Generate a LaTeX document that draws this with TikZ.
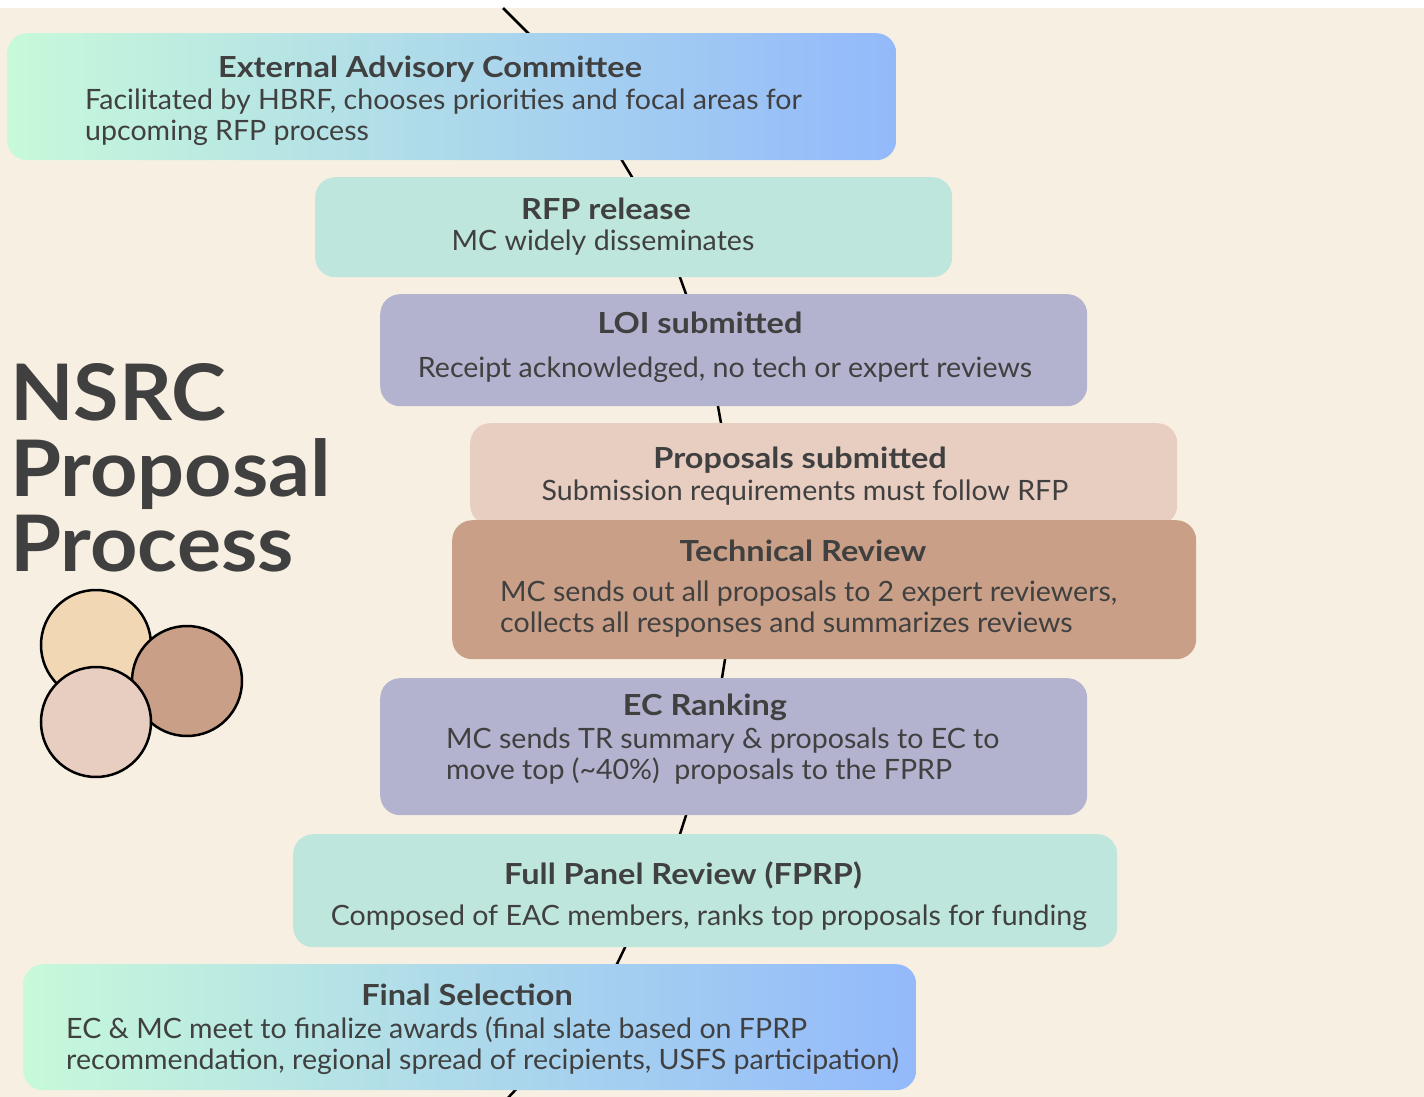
\documentclass[tikz,border=0pt]{standalone}
\usepackage{fontspec}
\setmainfont{Lato}
\newfontfamily\hfont[FakeStretch=1.12]{Lato Bold}
\newfontfamily\tfont[FakeStretch=1.06]{Lato Bold}
\newfontfamily\bfont[FakeStretch=1.02]{Lato}
\usetikzlibrary{calc}
\definecolor{bgcream}{HTML}{F7F0E2}
\definecolor{txt}{HTML}{404040}
\definecolor{mint}{HTML}{C7F9DA}
\definecolor{skyb}{HTML}{93B9FB}
\definecolor{aqua}{HTML}{BEE6DD}
\definecolor{lav}{HTML}{B3B2CF}
\definecolor{blush}{HTML}{E8CDC1}
\definecolor{clay}{HTML}{C9A087}
\definecolor{tan}{HTML}{F1D7B3}
\pgfdeclarelayer{bg}
\pgfdeclarelayer{lines}
\pgfsetlayers{bg,lines,main}
\tikzset{
  box/.style={rectangle, rounded corners=20pt, inner sep=0pt, anchor=north west, draw=none},
  gradbox/.style={box, left color=mint, right color=skyb},
  head/.style={inner sep=0pt, text=txt, font=\hfont\fontsize{29}{32}\selectfont, anchor=base},
  body/.style={inner sep=0pt, text=txt, font=\bfont\fontsize{28}{31}\selectfont, anchor=base},
  bodyl/.style={body, anchor=base west},
  conn/.style={line width=2.5pt, black},
  disc/.style={circle, draw=black, line width=2.5pt, minimum size=110pt, inner sep=0pt},
  title/.style={inner sep=0pt, text=txt, font=\tfont\fontsize{78}{78}\selectfont, anchor=base west}
}
\begin{document}
\begin{tikzpicture}[x=1pt,y=-1pt]
\useasboundingbox (0,0) rectangle (1424,1097);
\begin{pgfonlayer}{bg}
\fill[white] (0,0) rectangle (1424,1097);
\fill[bgcream] (0,8) rectangle (1424,1097);
\end{pgfonlayer}

% boxes
\node[gradbox, minimum width=889pt, minimum height=127pt] (eac) at (7,33) {};
\node[box, fill=aqua, minimum width=637pt, minimum height=100pt] (rfp) at (315,177) {};
\node[box, fill=lav, minimum width=707pt, minimum height=112pt] (loi) at (380,294) {};
\node[box, fill=blush, minimum width=707pt, minimum height=102pt] (prop) at (470,423) {};
\node[box, fill=clay, minimum width=744pt, minimum height=139pt] (tr) at (452,520) {};
\node[box, fill=lav, minimum width=707pt, minimum height=137pt] (ec) at (380,678) {};
\node[box, fill=aqua, minimum width=824pt, minimum height=113pt] (fprp) at (293,834) {};
\node[gradbox, minimum width=893pt, minimum height=126pt] (final) at (23,964) {};

% texts
\node[head] (each) at (430,78) {External Advisory Committee};
\node[bodyl] (eacb1) at (85,110) {Facilitated by HBRF, chooses priorities and focal areas for};
\node[bodyl] (eacb2) at (85,141) {upcoming RFP process};

\node[head] (rfph) at (606,219) {RFP release};
\node[body] (rfpb) at (603,250) {MC widely disseminates};

\node[head] (loih) at (700,333) {LOI submitted};
\node[body] (loib) at (725,377) {Receipt acknowledged, no tech or expert reviews};

\node[head] (proph) at (800,468) {Proposals submitted};
\node[body] (propb) at (805,500) {Submission requirements must follow RFP};

\node[head] (trh) at (803,561) {Technical Review};
\node[bodyl] (trb1) at (500,601) {MC sends out all proposals to 2 expert reviewers,};
\node[bodyl] (trb2) at (500,632) {collects all responses and summarizes reviews};

\node[head] (ech) at (705,715) {EC Ranking};
\node[bodyl] (ecb1) at (446,748) {MC sends TR summary \& proposals to EC to};
\node[bodyl] (ecb2) at (446,779) {move top (\textasciitilde40\%)\ \ proposals to the FPRP};

\node[head] (fprph) at (683,884) {Full Panel Review (FPRP)};
\node[body] (fprpb) at (709,925) {Composed of EAC members, ranks top proposals for funding};

\node[head] (finalh) at (467,1005) {Final Selection};
\node[bodyl] (finalb1) at (66,1038) {EC \& MC meet to finalize awards (final slate based on FPRP};
\node[bodyl] (finalb2) at (66,1069) {recommendation, regional spread of recipients, USFS participation)};

% title
\node[title] (t1) at (10,420) {NSRC};
\node[title] (t2) at (10,496) {Proposal};
\node[title] (t3) at (10,571) {Process};

% circles
\node[disc, fill=tan] (c1) at (96,645) {};
\node[disc, fill=clay] (c2) at (187,681) {};
\node[disc, fill=blush] (c3) at (96,722) {};

% connectors
\coordinate (ctop) at (503,8);
\coordinate (cbot) at (506,1100);
\begin{pgfonlayer}{lines}
\draw[conn] (ctop) -- ($(ctop)!1.3!($(eac.north west)+(521,0)$)$);
\draw[conn] ($($(eac.south west)+(615,0)$)!-0.6!($(rfp.north west)+(317,0)$)$) -- ($($(rfp.north west)+(317,0)$)!-0.6!($(eac.south west)+(615,0)$)$);
\draw[conn] ($($(rfp.south west)+(365,0)$)!-0.6!($(loi.north west)+(306,0)$)$) -- ($($(loi.north west)+(306,0)$)!-0.6!($(rfp.south west)+(365,0)$)$);
\draw[conn] ($($(loi.south west)+(338,0)$)!-0.6!($(prop.north west)+(251,0)$)$) -- ($($(prop.north west)+(251,0)$)!-0.6!($(loi.south west)+(338,0)$)$);
\draw[conn] ($($(tr.south west)+(273,0)$)!-0.6!($(ec.north west)+(342,0)$)$) -- ($($(ec.north west)+(342,0)$)!-0.6!($(tr.south west)+(273,0)$)$);
\draw[conn] ($($(ec.south west)+(306,0)$)!-0.6!($(fprp.north west)+(387,0)$)$) -- ($($(fprp.north west)+(387,0)$)!-0.6!($(ec.south west)+(306,0)$)$);
\draw[conn] ($($(fprp.south west)+(332,0)$)!-0.6!($(final.north west)+(594,0)$)$) -- ($($(final.north west)+(594,0)$)!-0.6!($(fprp.south west)+(332,0)$)$);
\draw[conn] ($(cbot)!1.5!($(final.south west)+(492,0)$)$) -- (cbot);
\end{pgfonlayer}
\end{tikzpicture}
\end{document}
